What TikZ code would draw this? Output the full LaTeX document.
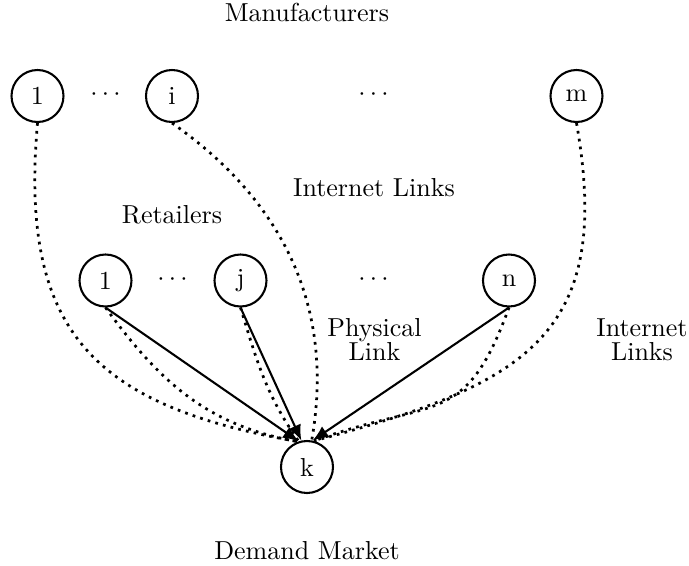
\documentclass[tikz,border=0pt]{standalone}
\usetikzlibrary{arrows.meta}
\begin{document}
\begin{tikzpicture}[x=0.3846pt,y=-0.3846pt,
  netnode/.style={circle,draw,line width=0.8pt,minimum size=20pt,inner sep=0pt},
  lbl/.style={anchor=base,inner sep=0pt,align=center},
  phys/.style={line width=0.8pt,-{Latex[length=6pt,width=5pt]}},
  inet/.style={line width=1.05pt,dash pattern=on 1.05pt off 2pt}]
\useasboundingbox (0,0) rectangle (689,566);
% manufacturers
\node[netnode] (m1) at (37.5,96) {1};
\node[netnode] (mi) at (172,96) {i};
\node[netnode] (mm) at (576.5,96) {m};
\node (md1) at (105.5,95) {$\cdots$};
\node (md2) at (373.5,95) {$\cdots$};
% retailers
\node[netnode] (r1) at (105.5,280.5) {1};
\node[netnode] (rj) at (240.5,280.5) {j};
\node[netnode] (rn) at (509,280.5) {n};
\node (rd1) at (172.5,280) {$\cdots$};
\node (rd2) at (373.5,280) {$\cdots$};
% demand market
\node[netnode] (k) at (307,467) {k};
% labels
\node[lbl] (tman) at (307,21) {Manufacturers};
\node[lbl] (tret) at (172,223) {Retailers};
\node[lbl] (tinet) at (374,196) {Internet Links};
\node[lbl] (tphys) at (374.5,360) {Physical\\[-3.15pt]Link};
\node[lbl] (tinet2) at (642,360) {Internet\\[-3.15pt]Links};
\node[lbl] (tdem) at (307,559) {Demand Market};
% internet links (dotted)
\draw[inet] (m1.south) to[out=-95,in=170,looseness=1.3] (k.110);
\draw[inet] (mi.south) to[out=-35,in=80] (k.80);
\draw[inet] (mm.south) to[out=-80,in=15,looseness=1.35] (k.75);
\draw[inet] (r1.south) to[out=-54,in=170] (k.110);
\draw[inet] (rj.south) to[out=-73,in=125] (k.108);
\draw[inet] (rn.south) to[out=-110,in=20,looseness=1.4] (k.75);
% physical links
\draw[phys] (r1.south) -- (k.108);
\draw[phys] (rj.south) -- (k.102);
\draw[phys] (rn.south) -- (k.78);
\end{tikzpicture}
\end{document}
